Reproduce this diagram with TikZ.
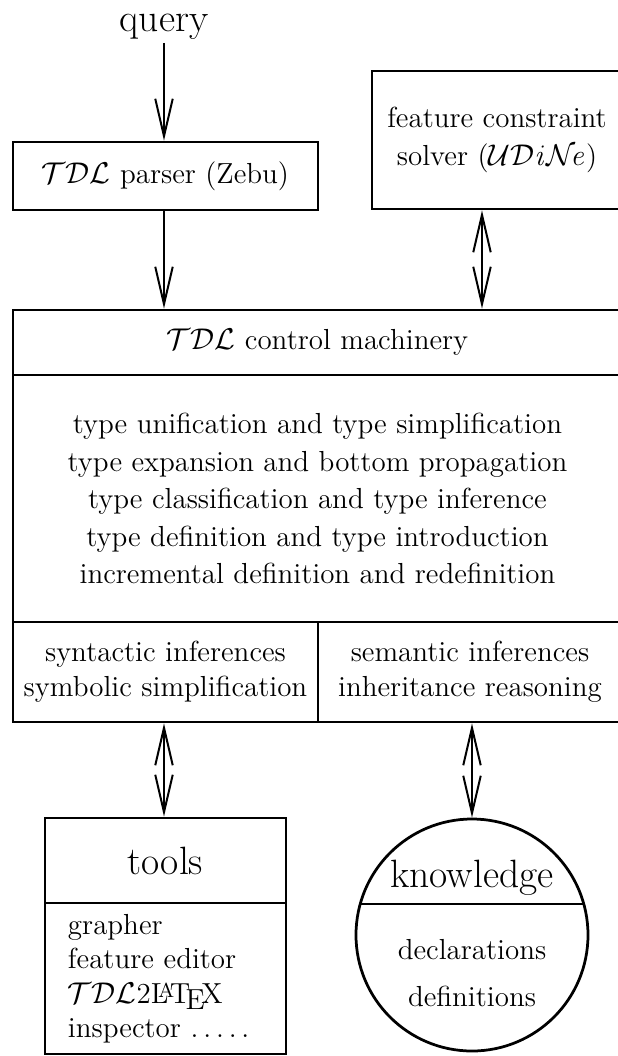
\documentclass[tikz,border=0pt]{standalone}
\usetikzlibrary{positioning,shapes,arrows.meta,calc}

\begin{document}
\begin{tikzpicture}[
    x=0.4pt, y=-0.4pt,
    font=\fontsize{11.6}{13.6}\selectfont,
    pointer/.tip={Straight Barb[length=15pt,width=7pt]},
    block/.style={
        rectangle,
        draw=black,
        line width=1.1pt,
        inner sep=0pt,
        align=center
    },
    big/.style={font=\fontsize{15.8}{18}\selectfont},
    line/.style={draw, line width=0.8pt, -pointer},
    both/.style={draw, line width=0.8pt, pointer-pointer}
]
    \useasboundingbox (0,0) rectangle (618,1056);

    % Input side
    \node[big, inner sep=1pt] (query) at (164,27) {query};
    \node[block, minimum width=122pt, minimum height=27.2pt] (parser) at (165.5,176)
        {$\mathcal{TDL}$ parser (Zebu)};
    \node[block, minimum width=100pt, minimum height=55.2pt,
          font=\fontsize{11.6}{15.2}\selectfont] (solver) at (497,140)
        {feature constraint\\solver ($\mathcal{UD}\mathit{i}\mathcal{N}\!\mathit{e}$)};

    % Control machinery
    \node[block, minimum width=243.6pt, minimum height=26pt] (ctrl) at (317.5,342.5)
        {$\mathcal{TDL}$ control machinery};
    \node[block, minimum width=243.6pt, minimum height=98.8pt,
          font=\fontsize{11.6}{15}\selectfont] (ops) at (317.5,498.5)
        {type unification and type simplification\\
         type expansion and bottom propagation\\
         type classification and type inference\\
         type definition and type introduction\\
         incremental definition and redefinition};
    \node[block, minimum width=122pt, minimum height=40pt,
          font=\fontsize{11.6}{14}\selectfont] (syn) at (165.5,672)
        {syntactic inferences\\symbolic simplification};
    \node[block, minimum width=121.6pt, minimum height=40pt,
          font=\fontsize{11.6}{14}\selectfont] (sem) at (470,672)
        {semantic inferences\\inheritance reasoning};

    % Tools
    \node[block, big, minimum width=96.4pt, minimum height=34pt] (tools) at (165.5,860.5) {tools};
    \node[block, minimum width=96.4pt, minimum height=60.4pt, text width=78pt,
          inner xsep=8.8pt, align=left, font=\fontsize{11.6}{13.8}\selectfont] (toollist) at (165.5,978.5)
        {grapher\\feature editor\\$\mathcal{TDL}$2\LaTeX\\inspector .\,.\,.\,.\,.};

    % Knowledge
    \node[circle, draw=black, line width=1.1pt, minimum size=92.8pt, inner sep=0pt] (know) at (472,935) {};
    \draw[line width=1.1pt] ($(know.center)+(-111.8,-31)$) -- ($(know.center)+(111.8,-31)$);
    \node[big] (knowtitle) at (472,878) {knowledge};
    \node[font=\fontsize{11.6}{18.8}\selectfont, align=center] (knowlist) at (472,973)
        {declarations\\definitions};

    % Connections
    \draw[line] (query.south) -- (query.south |- parser.north);
    \draw[line] (parser.south -| query.south) -- (query.south |- ctrl.north);
    \draw[both] ([xshift=-6pt]solver.south) -- ([xshift=-6pt]solver.south |- ctrl.north);
    \draw[both] (query.south |- syn.south) -- (query.south |- tools.north);
    \draw[both] (know.north |- sem.south) -- (know.north);
\end{tikzpicture}
\end{document}
